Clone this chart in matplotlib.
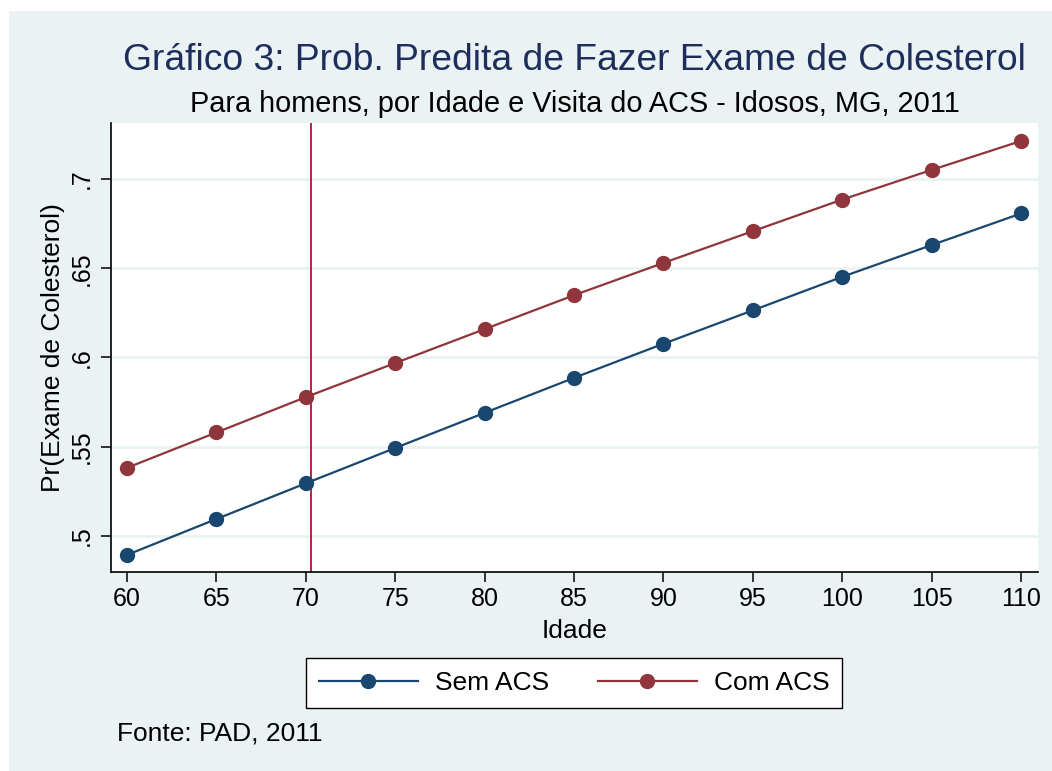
import matplotlib
matplotlib.use("Agg")
import matplotlib.pyplot as plt
from matplotlib.patches import Rectangle

idade = [60, 65, 70, 75, 80, 85, 90, 95, 100, 105, 110]
sem_acs = [0.4894, 0.5095, 0.5295, 0.5493, 0.5690, 0.5886, 0.6077, 0.6264, 0.6452, 0.6630, 0.6807]
com_acs = [0.5382, 0.5580, 0.5778, 0.5969, 0.6159, 0.6349, 0.6530, 0.6708, 0.6885, 0.7051, 0.7213]
vline_x = 70.3
yticks = [0.5, 0.55, 0.6, 0.65, 0.7]
ytick_labels = [".5", ".55", ".6", ".65", ".7"]
xticks = idade

title = "Gráfico 3: Prob. Predita de Fazer Exame de Colesterol"
subtitle = "Para homens, por Idade e Visita do ACS - Idosos, MG, 2011"
note = "Fonte: PAD, 2011"

plt.rcParams['font.family'] = ['Liberation Sans', 'DejaVu Sans']

BG = "#EAF2F3"
NAVY = "#1A476F"
MAROON = "#90353B"

W, H = 1052, 771
fig = plt.figure(figsize=(W / 100, H / 100), dpi=100)
fig.patch.set_facecolor("white")
fig.add_artist(Rectangle((9 / W, 0), 1 - 9 / W, (H - 11) / H, transform=fig.transFigure,
                         facecolor=BG, edgecolor="none", zorder=-10))

ax = fig.add_axes([111 / W, 1 - 572 / H, (1038 - 111) / W, (572 - 123) / H])
ax.set_facecolor("white")
ax.plot(idade, sem_acs, color=NAVY, lw=1.6, marker="o", ms=10, label="Sem ACS", zorder=3)
ax.plot(idade, com_acs, color=MAROON, lw=1.6, marker="o", ms=10, label="Com ACS", zorder=3)
ax.axvline(vline_x, color="#B5103C", lw=1.3, zorder=2)

ax.set_xlim(59.1, 110.95)
ax.set_ylim(0.4798, 0.7314)
ax.set_xticks(xticks)
ax.set_xticklabels([str(v) for v in xticks])
ax.set_yticks(yticks)
ax.set_yticklabels(ytick_labels, rotation=90, va="center")
ax.grid(axis="y", color=BG, lw=2.0)
ax.set_axisbelow(True)
for s in ["top", "right"]:
    ax.spines[s].set_visible(False)
for s in ["left", "bottom"]:
    ax.spines[s].set_color("black")
    ax.spines[s].set_linewidth(1.2)
ax.tick_params(axis="both", direction="out", length=7.5, width=1.1, labelsize=18, colors="black")
ax.tick_params(axis="x", pad=3.0)
ax.tick_params(axis="y", pad=5.0)
ax.set_xlabel("Idade", fontsize=19, labelpad=6)
ax.set_ylabel("Pr(Exame de Colesterol)", fontsize=19, labelpad=3)

cx = (111 + 1038) / 2 / W
fig.text(cx, 1 - 60 / H, title, ha="center", va="center", fontsize=26.8, color="#1E2E5C")
fig.text(cx, 1 - 104 / H, subtitle, ha="center", va="center", fontsize=20.8, color="black")
fig.text(117 / W, 1 - 733 / H, note, ha="left", va="center", fontsize=19, color="black")

leg = fig.legend(loc="center", bbox_to_anchor=(574 / W, 1 - 683 / H), ncol=2, fontsize=19,
                 frameon=True, fancybox=False, edgecolor="black", facecolor="white",
                 handlelength=3.75, columnspacing=1.85, handletextpad=0.64, borderpad=0.5)
leg.get_frame().set_linewidth(1.0)
leg.get_frame().set_alpha(1)

fig.savefig("out.png", dpi=100, facecolor=fig.get_facecolor())
